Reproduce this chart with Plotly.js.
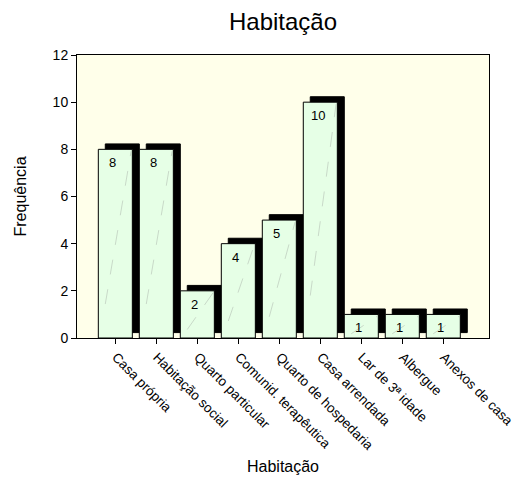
<!DOCTYPE html>
<html><head><meta charset="utf-8">
<script src="https://cdn.plot.ly/plotly-3.0.1.min.js"></script>
<style>html,body{margin:0;padding:0;background:#fff}#chart{width:529px;height:502px}</style>
</head><body><div id="chart"></div>
<script>
const categories = ["Casa própria","Habitação social","Quarto particular","Comunid. terapêutica","Quarto de hospedaria","Casa arrendada","Lar de 3ª idade","Albergue","Anexos de casa"];
const frequencies = [8, 8, 2, 4, 5, 10, 1, 1, 1];
const yTicks = [0, 2, 4, 6, 8, 10, 12];

const FONT = "'Liberation Sans', Arial, sans-serif";
const BAR_W = 0.83, BAR_OFF = -0.43;
const SH_DX = 0.17, SH_DY = 0.23;

const shadow = {
  type: 'bar', x: categories, y: frequencies,
  base: frequencies.map(() => SH_DY),
  width: BAR_W, offset: BAR_OFF + SH_DX,
  marker: {color: '#000', line: {color: '#000', width: 1}},
  hoverinfo: 'skip', showlegend: false
};
const front = {
  type: 'bar', x: categories, y: frequencies,
  width: BAR_W, offset: BAR_OFF,
  marker: {color: '#E6FFE6', line: {color: '#000', width: 1}},
  showlegend: false
};

const annotations = categories.map((c, i) => ({
  x: c, y: frequencies[i], xref: 'x', yref: 'y',
  text: String(frequencies[i]), showarrow: false,
  yanchor: 'top', yshift: -4, xshift: -3,
  font: {family: FONT, size: 13, color: '#000'}
}));

const shapes = categories.map((c, i) => ({
  type: 'line', xref: 'x', yref: 'y',
  x0: i + BAR_OFF + 0.17, y0: 0.18 * frequencies[i],
  x1: i + BAR_OFF + BAR_W - 0.03, y1: frequencies[i] - 0.08,
  line: {color: '#b4bfb4', width: 0.6, dash: 'longdash'}
}));

const layout = {
  width: 529, height: 502,
  margin: {l: 77, r: 40, t: 55, b: 164},
  paper_bgcolor: '#ffffff', plot_bgcolor: '#FFFFEA',
  barmode: 'overlay',
  font: {family: FONT, color: '#000', size: 13},
  title: {text: 'Habitação', font: {family: FONT, size: 24, color: '#000'},
          x: 0.5, xref: 'paper', xanchor: 'center', y: 1 - 22/502, yref: 'container', yanchor: 'middle'},
  xaxis: {
    type: 'category', range: [-0.95, 9.1], automargin: false,
    tickangle: 45, ticks: 'outside', ticklen: 5, tickcolor: '#000',
    showline: true, linecolor: '#000', linewidth: 1, mirror: true,
    showgrid: false, zeroline: false,
    tickfont: {family: FONT, size: 13.5, color: '#000'},
    title: {text: 'Habitação', font: {family: FONT, size: 16, color: '#000'}, standoff: 8}
  },
  yaxis: {
    range: [0, 12], tickvals: yTicks, ticktext: yTicks.map(String), automargin: false,
    ticks: 'outside', ticklen: 5, tickcolor: '#000',
    showline: true, linecolor: '#000', linewidth: 1, mirror: true,
    showgrid: false, zeroline: false,
    tickfont: {family: FONT, size: 14, color: '#000'},
    title: {text: 'Frequência', font: {family: FONT, size: 16, color: '#000'}, standoff: 22}
  },
  annotations: annotations,
  shapes: shapes,
  hovermode: false
};

Plotly.newPlot('chart', [shadow, front], layout, {displayModeBar: false, staticPlot: true});
</script>
</body></html>
